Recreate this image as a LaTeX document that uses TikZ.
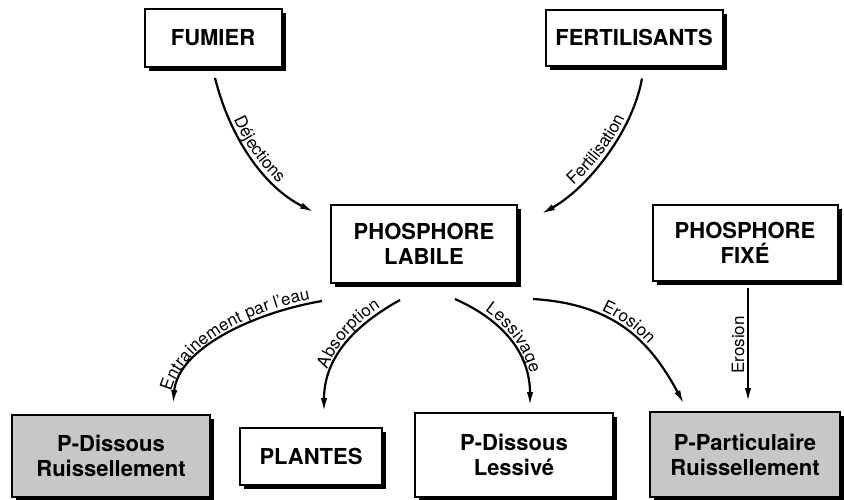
\documentclass[tikz,border=0pt]{standalone}
\usepackage{fontspec}
\setmainfont{TeX Gyre Heros}
\usetikzlibrary{arrows.meta,shadows,decorations.text,calc}
\newcommand{\boxfont}{\fontsize{11}{12.5}\selectfont\bfseries}
\newcommand{\labfont}{\fontsize{8.5}{10}\selectfont}

\begin{document}
\begin{tikzpicture}[
    x=0.5pt, y=-0.5pt,
    box/.style={draw, line width=1pt, fill=white, align=center, font=\boxfont, inner sep=0pt,
        drop shadow={shadow xshift=2pt, shadow yshift=-2pt, fill=black, opacity=1}},
    grey/.style={box, fill=black!22},
    arrow/.style={-{Latex[length=7pt,width=3.2pt]}, line width=1.1pt},
    lbl/.style 2 args={postaction={decorate, decoration={text along path, text align={#2}, raise=2pt, text={|\labfont|#1}}}},
    rlbl/.style 2 args={postaction={decorate, decoration={text along path, text align={#2}, raise=2pt, reverse path, text={|\labfont|#1}}}}
]
\useasboundingbox (0,0) rectangle (844,499);

% sources
\node[box, minimum width=68.5pt, minimum height=29pt] (fumier) at (213,38) {FUMIER};
\node[box, minimum width=88.5pt, minimum height=28pt] (fert) at (634,37.5) {FERTILISANTS};

% phosphore du sol
\node[box, minimum width=93pt, minimum height=39pt] (labile) at (424,244) {PHOSPHORE\\LABILE};
\node[box, minimum width=92.5pt, minimum height=38pt] (fixe) at (745,243) {PHOSPHORE\\FIXÉ};

% sorties
\node[grey, minimum width=99pt, minimum height=41pt] (pdr) at (111,456) {P-Dissous\\Ruissellement};
\node[box, minimum width=71pt, minimum height=28.5pt] (plantes) at (311,456.5) {PLANTES};
\node[box, minimum width=99pt, minimum height=42pt] (pdl) at (514,455) {P-Dissous\\Lessivé};
\node[grey, minimum width=95pt, minimum height=42.5pt] (ppr) at (745,454.5) {P-Particulaire\\Ruissellement};

\draw[arrow, lbl={Déjections}{center}] ($(fumier.south)+(2,10)$) .. controls +(15,60) and +(-50,-25) .. ($(labile.north west)+(-16,8)$);
\draw[arrow, rlbl={Fertilisation}{center}] ($(fert.south)+(8,12)$) .. controls +(-10,55) and +(45,-25) .. ($(labile.north east)+(23,10)$);
\draw[arrow, rlbl={Entrainement par l'eau}{center}] ($(labile.south west)+(-8,17)$) .. controls +(-70,12) and +(5,-55) .. ($(pdr.north)+(62,-10)$);
\draw[arrow, rlbl={Absorption}{right, right indent=10pt}] ($(labile.south)+(-24,16)$) .. controls +(-45,25) and +(0,-55) .. ($(plantes.north)+(13,-15)$);
\draw[arrow, lbl={Lessivage}{center}] ($(labile.south)+(31,15)$) .. controls +(45,20) and +(0,-55) .. ($(pdl.north)+(16,-6)$);
\draw[arrow, lbl={Erosion}{center}] ($(labile.south east)+(15,15)$) .. controls +(80,5) and +(-35,-65) .. ($(ppr.north west)+(35,-7)$);
\draw[arrow, rlbl={Erosion}{center}] ($(fixe.south)+(3,6)$) -- ($(ppr.north)+(3,-9)$);
\end{tikzpicture}
\end{document}
